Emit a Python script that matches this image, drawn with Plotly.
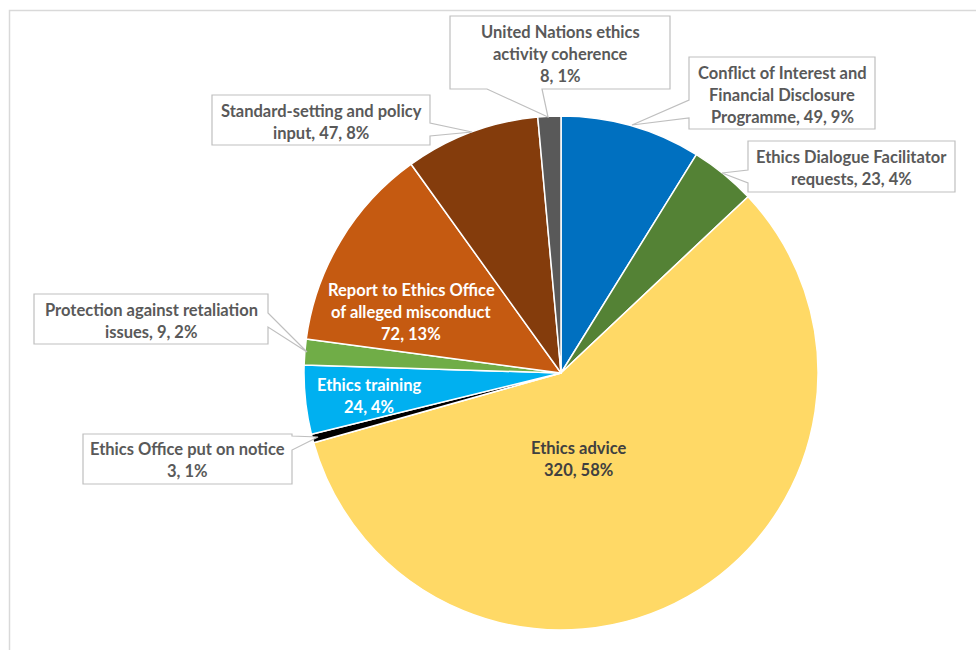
import plotly.graph_objects as go

# ---- data ----
categories = [
    "Conflict of Interest and Financial Disclosure Programme",
    "Ethics Dialogue Facilitator requests",
    "Ethics advice",
    "Ethics Office put on notice",
    "Ethics training",
    "Protection against retaliation issues",
    "Report to Ethics Office of alleged misconduct",
    "Standard-setting and policy input",
    "United Nations ethics activity coherence",
]
values = [49, 23, 320, 3, 24, 9, 72, 47, 8]
label_templates = [
    "Conflict of Interest and<br>Financial Disclosure<br>Programme, {v}, {p}%",
    "Ethics Dialogue Facilitator<br>requests, {v}, {p}%",
    "Ethics advice<br>{v}, {p}%",
    "Ethics Office put on notice<br>{v}, {p}%",
    "Ethics training<br>{v}, {p}%",
    "Protection against retaliation<br>issues, {v}, {p}%",
    "Report to Ethics Office<br>of alleged misconduct<br>{v}, {p}%",
    "Standard-setting and policy<br>input, {v}, {p}%",
    "United Nations ethics<br>activity coherence<br>{v}, {p}%",
]
colors = ["#0070C0", "#548235", "#FFD966", "#000000", "#00B0F0",
          "#70AD47", "#C55A11", "#843C0C", "#595959"]

# ---- layout / styling ----
W, H = 976, 650
def px(x):
    return x / W
def py(y):
    return 1 - y / H

total = sum(values)
percents = [round(v / total * 100) for v in values]
labels_text = [t.format(v=v, p=p) for t, v, p in zip(label_templates, values, percents)]

# label styling: center x, first line y (px), font colour
label_style = [
    (782, 73, "#595959"),
    (851, 157, "#595959"),
    (578, 448, "#404040"),
    (187, 449, "#595959"),
    (369, 385, "#FFFFFF"),
    (151, 310, "#595959"),
    (411, 290, "#FFFFFF"),
    (321, 111, "#595959"),
    (560, 32, "#595959"),
]
LINE = 22

# callout boxes: rect (x0,y0,x1,y1), wedge base pts and tip
callouts = [
    ((689, 57, 875, 129), "left", (100, 118), (632, 125)),
    ((748, 141, 955, 192), "left", (170, 183), (722, 173)),
    None,
    ((83, 434, 292, 484), "right", (436, 450), (318, 437)),
    None,
    ((34, 294, 268, 344), "right", (313, 327), (307, 352)),
    None,
    ((212, 95, 430, 145), "right", (123, 136), (472, 132)),
    ((450, 16, 670, 89), "bottom", (487, 542), (548, 117)),
]

cx, cy, r = 561, 373, 257

fig = go.Figure(go.Pie(
    labels=categories,
    values=values,
    marker=dict(colors=colors, line=dict(color="#FFFFFF", width=1.5)),
    sort=False,
    direction="clockwise",
    rotation=0,
    textinfo="none",
    hoverinfo="label+value+percent",
    showlegend=False,
    domain=dict(x=[px(cx - r), px(cx + r)], y=[py(cy + r), py(cy - r)]),
))

shapes = []
# outer chart border
shapes.append(dict(type="rect", xref="paper", yref="paper",
                   x0=px(9.5), x1=px(1100), y0=py(10.5), y1=py(800),
                   line=dict(color="#D9D9D9", width=1.5), fillcolor="rgba(0,0,0,0)",
                   layer="below"))

for c in callouts:
    if c is None:
        continue
    (x0, y0, x1, y1), side, base, tip = c
    if side == "left":
        pts = [(x0, y0), (x1, y0), (x1, y1), (x0, y1), (x0, base[1]), tip, (x0, base[0])]
    elif side == "right":
        pts = [(x0, y0), (x1, y0), (x1, base[0]), tip, (x1, base[1]), (x1, y1), (x0, y1)]
    else:  # bottom
        pts = [(x0, y0), (x1, y0), (x1, y1), (base[1], y1), tip, (base[0], y1), (x0, y1)]
    path = "M " + " L ".join(f"{px(a):.5f},{py(b):.5f}" for a, b in pts) + " Z"
    shapes.append(dict(type="path", xref="paper", yref="paper", path=path,
                       fillcolor="#FFFFFF", line=dict(color="#BFBFBF", width=1.2),
                       layer="above"))

annotations = []
for text, (lx, ly, col) in zip(labels_text, label_style):
    for i, line in enumerate(text.split("<br>")):
        annotations.append(dict(
            x=px(lx), y=py(ly + i * LINE), xref="paper", yref="paper",
            text="<b>" + line + "</b>", showarrow=False,
            xanchor="center", yanchor="middle",
            font=dict(family="Lato", size=16.5, color=col),
        ))

fig.update_layout(
    width=W, height=H,
    margin=dict(l=0, r=0, t=0, b=0),
    paper_bgcolor="#FFFFFF",
    plot_bgcolor="#FFFFFF",
    shapes=shapes,
    annotations=annotations,
)

fig.write_html("out.html")
